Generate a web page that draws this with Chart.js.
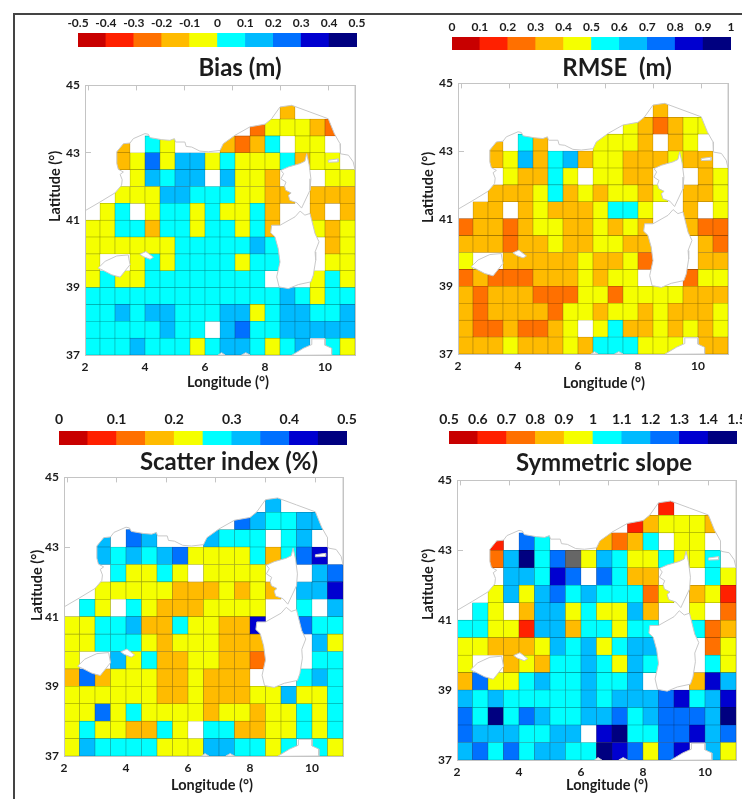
<!DOCTYPE html>
<html>
<head>
<meta charset="utf-8">
<script src="https://cdn.jsdelivr.net/npm/chart.js@4/dist/chart.umd.min.js"></script>
<style>
  html, body { margin: 0; padding: 0; background: #fff; overflow: hidden; }
  body { width: 742px; height: 799px; position: relative; }
  canvas { position: absolute; display: block; filter: blur(0.4px); }
  #frame { position: absolute; left: 13px; top: 13px; width: 800px; height: 850px; border: 2px solid #444; }
</style>
</head>
<body>
<div id="frame"></div>
<script>
const _ = null;

// left edge of each grid column, bottom edge of each grid row
const lons = [2, 2.5, 3, 3.5, 4, 4.5, 5, 5.5, 6, 6.5, 7, 7.5, 8, 8.5, 9, 9.5, 10, 10.5];
const lats = [44, 43.5, 43, 42.5, 42, 41.5, 41, 40.5, 40, 39.5, 39, 38.5, 38, 37.5, 37];
const lonTicks = [2, 4, 6, 8, 10];
const latTicks = [37, 39, 41, 43, 45];

const binColors = ['#c80000', '#ff2000', '#ff7000', '#ffbb00', '#f5ff00', '#00ffff', '#00bbff', '#0070ff', '#0000d0', '#000080'];
const offScaleColor = '#666666';

const biasLabels = ['-0.5', '-0.4', '-0.3', '-0.2', '-0.1', '0', '0.1', '0.2', '0.3', '0.4', '0.5'];
const rmseLabels = ['0', '0.1', '0.2', '0.3', '0.4', '0.5', '0.6', '0.7', '0.8', '0.9', '1'];
const scatterLabels = ['0', '0.1', '0.2', '0.3', '0.4', '0.5'];
const slopeLabels = ['0.5', '0.6', '0.7', '0.8', '0.9', '1', '1.1', '1.2', '1.3', '1.4', '1.5'];

const bias = [
  [_,_,_,_,_,_,_,_,_,_,_,_,_,-.15,_,_,_,_],
  [_,_,_,_,_,_,_,_,_,_,_,-.25,-.05,-.05,-.05,-.15,-.25,_],
  [_,_,-.15,_,.05,-.05,_,_,_,-.15,-.25,-.15,.05,_,-.05,-.05,_,_],
  [_,_,-.15,-.05,.25,-.05,.15,.15,-.05,.05,-.05,-.05,-.05,.05,-.15,-.05,-.05,_],
  [_,_,_,-.05,.15,.05,.15,.15,_,.15,-.05,-.05,-.15,_,_,_,-.05,-.05],
  [_,_,-.05,-.05,-.05,.15,.15,.05,.05,.05,-.05,-.05,-.15,-.15,_,-.15,-.15,-.15],
  [_,-.05,.05,_,-.05,.05,.05,-.05,.05,-.05,-.05,.05,-.15,_,_,-.15,_,-.15],
  [-.05,-.05,.05,.05,-.15,.05,.05,-.05,.05,.05,-.05,.05,-.15,_,_,-.05,-.15,-.05],
  [-.05,-.05,-.05,-.05,-.05,-.05,.05,.05,.05,.05,.05,.15,.05,.05,_,_,-.15,-.05],
  [-.05,_,_,-.05,.05,-.05,.05,.05,.05,.05,-.05,.05,.05,.05,_,_,-.05,-.05],
  [-.05,.05,-.05,-.05,.05,.05,.05,.05,.05,.05,.05,.05,_,_,_,-.05,.05,-.05],
  [.05,.05,.05,.05,.05,.05,.05,.05,.05,.05,.05,.05,.05,.15,.05,-.05,.05,.05],
  [.05,.05,.15,.05,.15,.15,.05,.05,.05,.15,.15,-.05,.05,.15,.15,.05,.05,.15],
  [.05,.05,.05,.05,.05,.15,.05,.05,_,.15,.25,.05,.05,.15,.15,.15,.15,.15],
  [.05,.05,.05,.15,.05,.05,.05,-.05,.05,.15,.15,.05,-.05,.05,.15,_,.05,-.05]
];

const rmse = [
  [_,_,_,_,_,_,_,_,_,_,_,_,_,.35,_,_,_,_],
  [_,_,_,_,_,_,_,_,_,_,_,.45,.35,.25,.35,.45,.45,_],
  [_,_,.35,_,.55,.35,_,_,_,.45,.45,.45,.35,_,.35,.45,_,_],
  [_,_,.35,.45,.65,.35,.55,.65,.35,.45,.45,.35,.35,.35,.45,.35,.35,_],
  [_,_,_,.45,.35,.35,.55,.45,_,.45,.45,.35,.35,_,_,_,.35,.45],
  [_,_,.35,.35,.35,.45,.55,.35,.45,.35,.45,.45,.35,.45,_,.35,.35,.45],
  [_,.35,.35,_,.35,.45,.35,.35,.35,.45,.55,.55,.45,_,_,.35,_,.45],
  [.25,.35,.35,.25,.35,.45,.45,.35,.35,.45,.35,.45,.35,_,_,.35,.25,.25],
  [.35,.35,.35,.25,.35,.35,.45,.35,.35,.45,.45,.35,.35,.35,_,_,.35,.25],
  [.45,_,_,.35,.35,.35,.35,.35,.45,.35,.35,.45,.25,_,_,_,.35,.35],
  [.25,.35,.25,.25,.25,.35,.35,.35,.45,.35,.45,.45,_,_,_,.25,.45,.45],
  [.35,.25,.35,.35,.35,.25,.25,.25,.45,.45,.25,.45,.45,.45,.45,.35,.35,.35],
  [.35,.25,.35,.35,.35,.35,.25,.45,.45,.35,.45,.45,.35,.45,.35,.35,.35,.45],
  [.35,.25,.25,.35,.25,.25,.35,.45,_,.45,.55,.35,.35,.45,.35,.45,.35,.45],
  [.35,.35,.35,.45,.35,.35,.35,.45,.35,.55,.55,.55,.45,.45,.45,_,.35,.35]
];

const scatterIndex = [
  [_,_,_,_,_,_,_,_,_,_,_,_,_,.325,_,_,_,_],
  [_,_,_,_,_,_,_,_,_,_,_,.375,.325,.275,.275,.325,.325,_],
  [_,_,.325,_,.375,.325,_,_,_,.325,.275,.275,.275,_,.275,.325,_,_],
  [_,_,.325,.275,.325,.275,.325,.375,.225,.225,.225,.225,.275,.175,.275,.375,.425,_],
  [_,_,_,.275,.225,.225,.275,.225,_,.225,.225,.225,.225,_,_,_,.325,.375],
  [_,_,.225,.225,.225,.225,.225,.175,.175,.175,.225,.175,.225,.175,_,.325,.325,.425],
  [_,.275,.225,_,.275,.225,.175,.175,.175,.225,.225,.225,.225,_,_,.275,_,.325],
  [.225,.225,.275,.275,.325,.175,.175,.275,.225,.225,.175,.175,.425,_,_,.375,.275,.275],
  [.225,.225,.275,.275,.275,.225,.175,.225,.225,.225,.175,.175,.175,_,_,_,.325,.225],
  [.225,_,_,.325,.225,.275,.175,.175,.225,.225,.175,.175,.125,_,_,_,.275,.275],
  [.175,.375,.175,.225,.225,.225,.175,.175,.225,.175,.175,.175,_,_,_,.275,.325,.275],
  [.225,.225,.225,.225,.225,.225,.175,.175,.225,.175,.175,.175,.225,.225,.325,.225,.225,.275],
  [.225,.225,.375,.225,.275,.225,.225,.225,.225,.175,.225,.225,.175,.225,.225,.275,.225,.275],
  [.225,.275,.225,.225,.175,.175,.275,.225,_,.275,.275,.175,.175,.225,.225,.275,.225,.275],
  [.225,.325,.275,.275,.275,.275,.225,.225,.225,.325,.325,.275,.275,.225,.275,_,.275,.225]
];

const slope = [
  [_,_,_,_,_,_,_,_,_,_,_,_,_,.65,_,_,_,_],
  [_,_,_,_,_,_,_,_,_,_,_,.65,.85,.95,.95,.95,.85,_],
  [_,_,.65,_,1.25,1.05,_,_,_,.85,.75,.85,1.05,_,.95,.95,_,_],
  [_,_,.75,1.15,1.45,1.05,1.25,1.6,.95,1.15,1.05,.95,.95,1.05,.95,.95,1.05,_],
  [_,_,_,1.15,1.15,1.05,1.35,1.25,_,1.25,1.05,.85,.85,_,_,_,1.05,.95],
  [_,_,.95,1.15,.95,1.15,1.25,1.05,1.15,1.05,1.05,1.05,.75,.95,_,.85,.95,.65],
  [_,1.05,.95,_,.85,1.15,1.15,.95,1.05,.95,.95,1.15,.85,_,_,.95,_,.75],
  [1.05,1.05,.95,.95,.65,1.15,1.15,.85,1.05,1.05,.95,1.05,1.05,_,_,1.05,.75,.85],
  [.95,.95,.85,.85,.85,.95,1.15,1.05,1.15,.95,1.05,1.15,1.15,_,_,_,.75,.95],
  [.95,_,_,.85,.95,.85,1.05,1.05,1.15,1.05,.95,1.15,1.05,_,_,_,1.05,.95],
  [.85,1.25,.95,.95,1.05,1.15,1.05,1.05,1.15,1.05,1.05,1.15,_,_,_,.85,1.35,1.15],
  [1.15,1.05,1.15,1.05,1.05,1.05,1.05,1.05,1.15,1.05,1.15,1.15,1.15,1.25,1.35,1.05,1.15,1.35],
  [1.25,1.05,1.45,1.05,1.25,1.15,1.05,1.05,1.15,1.15,1.25,1.05,1.15,1.25,1.25,1.25,1.15,1.45],
  [1.25,1.15,1.15,1.15,1.05,1.05,1.15,1.15,_,1.35,1.45,1.05,1.05,1.25,1.25,1.35,1.15,1.25],
  [1.15,1.25,1.05,1.25,1.05,1.15,1.15,1.05,1.05,1.45,1.35,1.25,.95,1.25,1.35,_,1.15,.95]
];

// coast outlines, [lon, lat]
const france = [[2,41.28],[2.5,41.54],[3,41.81],[3.22,42.04],[3.24,42.2],[3.17,42.36],[3.28,42.43],[3.11,42.51],[3.06,42.68],[3.06,43.03],[3.28,43.27],[3.5,43.29],[3.61,43.42],[4,43.57],[4.11,43.55],[4.17,43.45],[4.56,43.39],[4.83,43.37],[4.98,43.42],[5.02,43.32],[5.33,43.32],[5.37,43.19],[5.56,43.17],[5.83,43.05],[6.11,43.03],[6.5,43.07],[6.61,43.27],[7,43.52],[7.5,43.77],[8,43.85],[8.22,44.01],[8.5,44.36],[8.89,44.41],[9.5,44.21],[10.11,44.01],[10.31,43.57],[10.5,43.27],[10.5,43.02],[10.53,42.97],[10.78,42.93],[10.94,42.73],[11,42.5],[11,45],[2,45]];
const corsica = [[9.39,42.975],[9.47,42.65],[9.53,42.23],[9.5,41.89],[9.22,41.36],[9.06,41.52],[8.83,41.59],[8.78,41.74],[8.87,41.81],[8.69,41.89],[8.65,42.02],[8.7,42.13],[8.53,42.23],[8.62,42.38],[8.53,42.48],[8.78,42.58],[9.17,42.68],[9.33,42.75]];
const sardinia = [[9.17,41.27],[9.33,41.15],[9.5,41.2],[9.67,40.6],[9.8,40.36],[9.67,40.06],[9.69,39.81],[9.61,39.37],[9.53,39.17],[9.11,39.09],[8.78,38.97],[8.47,39.02],[8.39,39.32],[8.5,39.76],[8.44,40.16],[8.33,40.51],[8.19,40.63],[8.22,40.85],[8.5,40.85],[9,41.1]];
const mallorca = [[2.44,39.58],[2.67,39.78],[3.06,39.94],[3.44,39.97],[3.5,39.68],[3.17,39.31],[2.89,39.38],[2.61,39.51]];
const menorca = [[3.83,39.99],[4.03,40.07],[4.28,39.9],[4.17,39.84],[3.94,39.92]];
const elba = [[10.11,42.78],[10.44,42.82],[10.44,42.73],[10.11,42.72]];
const sicily = [[8.89,36.99],[9.28,37.2],[9.56,37.31],[9.56,37.48],[10,37.48],[10,37.29],[10.22,37.2],[10.22,37]];
const coast1 = [[6.44,37],[6.55,37.07],[6.67,37]];
const coast2 = [[7.22,37],[7.36,37.07],[7.5,37]];
const lands = [france, corsica, sardinia, mallorca, menorca, elba, sicily, coast1, coast2];

const FONT = 'Lato, sans-serif';
const INK = '#1c1c1c';
const EDGE = '#c4c4c4';
const CANVAS_W = 440;

function addCanvas(left, top, w, h) {
  const c = document.createElement('canvas');
  c.width = w;
  c.height = h;
  c.style.left = left + 'px';
  c.style.top = top + 'px';
  c.style.width = w + 'px';
  c.style.height = h + 'px';
  document.body.appendChild(c);
  return c;
}

function colorFor(v, low, step) {
  const i = Math.floor((v - low) / step);
  return binColors[i] || offScaleColor;
}

// cell edges are a darker tint of the cell itself
function darker(hex) {
  const n = parseInt(hex.slice(1), 16);
  const r = Math.round((n >> 16) * 0.62);
  const g = Math.round(((n >> 8) & 255) * 0.62);
  const b = Math.round((n & 255) * 0.62);
  return 'rgb(' + r + ',' + g + ',' + b + ')';
}

function toXY(points) {
  return points.map(p => ({ x: p[0], y: p[1] }));
}

// axis names sit off-centre in the original, scale titles can't do that
const axisNames = {
  id: 'axisNames',
  afterDraw(chart, args, opts) {
    const ctx = chart.ctx;
    ctx.save();
    ctx.fillStyle = INK;
    ctx.font = 'bold 14.5px ' + FONT;
    ctx.textAlign = 'center';
    ctx.textBaseline = 'middle';
    ctx.fillText('Longitude (°)', opts.xName[0], opts.xName[1]);
    ctx.translate(opts.yName[0], opts.yName[1]);
    ctx.rotate(-Math.PI / 2);
    ctx.fillText('Latitude (°)', 0, 0);
    ctx.restore();
  }
};

function drawMap(p) {
  // canvas is centred on the title, the margins live in the axis widths
  const left = p.titleX - CANVAS_W / 2;
  const top = p.titleY - 14.4;
  const height = p.plot.bottom + 40 - top;
  const canvas = addCanvas(left, top, CANVAS_W, height);

  const cells = [];
  const colors = [];
  p.grid.forEach((row, r) => {
    row.forEach((v, c) => {
      if (v === null) return;
      cells.push({ x: lons[c] + 0.25, y: [lats[r], lats[r] + 0.5] });
      colors.push(colorFor(v, p.low, p.step));
    });
  });

  const datasets = [{
    type: 'bar',
    data: cells,
    backgroundColor: colors,
    borderColor: colors.map(darker),
    borderWidth: 0.6,
    borderSkipped: false,
    grouped: false,
    barPercentage: 1,
    categoryPercentage: 1,
    order: 2
  }];
  lands.forEach(land => {
    datasets.push({
      type: 'scatter',
      data: toXY(land.concat([land[0]])),
      showLine: true,
      tension: 0,
      pointRadius: 0,
      borderColor: '#c8c8c8',
      borderWidth: 1,
      backgroundColor: '#ffffff',
      fill: 'shape',
      order: 1
    });
  });

  const tickFont = { family: FONT, weight: 'bold', size: 12 };
  new Chart(canvas.getContext('2d'), {
    type: 'bar',
    data: { datasets: datasets },
    plugins: [axisNames],
    options: {
      responsive: false,
      animation: false,
      events: [],
      layout: { padding: 0 },
      plugins: {
        legend: { display: false },
        tooltip: { enabled: false },
        title: {
          display: true,
          text: p.title,
          color: INK,
          font: { family: FONT, weight: 'bold', size: 24 },
          padding: { top: 0, bottom: p.plot.top - top - 28.8 }
        },
        axisNames: {
          xName: [p.xName[0] - left, p.xName[1] - top],
          yName: [p.yName[0] - left, p.yName[1] - top]
        }
      },
      scales: {
        x: {
          type: 'linear',
          min: 2,
          max: 11,
          offset: false,
          afterBuildTicks: s => { s.ticks = lonTicks.map(v => ({ value: v })); },
          afterFit: s => { s.height = 40; },
          grid: { display: false, offset: false, drawTicks: false },
          border: { color: EDGE, z: 1 },
          ticks: { color: INK, font: tickFont, padding: 5, maxRotation: 0, autoSkip: false }
        },
        xTop: {
          type: 'linear',
          axis: 'x',
          position: 'top',
          min: 2,
          max: 11,
          afterBuildTicks: s => { s.ticks = lonTicks.map(v => ({ value: v })); },
          afterFit: s => { s.height = 0; },
          grid: { drawOnChartArea: false, tickLength: -5, color: EDGE, z: 1 },
          border: { color: EDGE, z: 1 },
          ticks: { display: false }
        },
        y: {
          type: 'linear',
          min: 37,
          max: 45,
          afterBuildTicks: s => { s.ticks = latTicks.map(v => ({ value: v })); },
          afterFit: s => { s.width = p.plot.left - left; },
          grid: {
            drawOnChartArea: false,
            tickLength: -6,
            z: 1,
            tickColor: c => (c.tick && c.tick.value >= 43 ? EDGE : 'transparent')
          },
          border: { color: EDGE, z: 1 },
          ticks: { color: INK, font: tickFont, padding: 11, autoSkip: false }
        },
        yRight: {
          type: 'linear',
          axis: 'y',
          position: 'right',
          min: 37,
          max: 45,
          afterFit: s => { s.width = left + CANVAS_W - p.plot.right; },
          grid: { display: false, drawTicks: false },
          border: { color: EDGE, z: 1 },
          ticks: { display: false }
        }
      }
    }
  });
}

function drawColorbar(p) {
  const b = p.bar;
  const side = 30;
  const labelH = 20;
  const canvas = addCanvas(b.left - side, b.top - labelH, b.right - b.left + side * 2, b.bottom - b.top + labelH);

  const low = p.low;
  const bins = binColors.map((col, i) => ({ x: low + p.step * (i + 0.5), y: [0, 1] }));
  const high = low + p.step * binColors.length;
  const tickStep = (high - low) / (p.labels.length - 1);

  new Chart(canvas.getContext('2d'), {
    type: 'bar',
    data: {
      datasets: [{
        data: bins,
        backgroundColor: binColors,
        borderWidth: 0,
        grouped: false,
        barPercentage: 1,
        categoryPercentage: 1
      }]
    },
    options: {
      responsive: false,
      animation: false,
      events: [],
      layout: { padding: { left: side, right: side, top: 0, bottom: 0 } },
      plugins: { legend: { display: false }, tooltip: { enabled: false } },
      scales: {
        x: {
          type: 'linear',
          position: 'top',
          min: low,
          max: high,
          offset: false,
          afterBuildTicks: s => { s.ticks = p.labels.map((t, i) => ({ value: low + tickStep * i })); },
          afterFit: s => { s.height = labelH; },
          grid: { display: false, offset: false, drawTicks: false },
          border: { display: false },
          ticks: {
            color: INK,
            font: { family: FONT, weight: 'bold', size: p.labelSize },
            padding: 3,
            maxRotation: 0,
            autoSkip: false,
            callback: (value, i) => p.labels[i]
          }
        },
        y: { display: false, min: 0, max: 1 }
      }
    }
  });
}

const panels = [
  {
    title: 'Bias (m)', grid: bias, labels: biasLabels, low: -0.5, step: 0.1, labelSize: 12,
    titleX: 240, titleY: 68,
    plot: { left: 85, right: 355, top: 85, bottom: 355 },
    bar: { left: 78, right: 357, top: 33, bottom: 47 },
    xName: [228, 382], yName: [55, 186]
  },
  {
    title: 'RMSE  (m)', grid: rmse, labels: rmseLabels, low: 0, step: 0.1, labelSize: 12,
    titleX: 617, titleY: 68,
    plot: { left: 458, right: 728, top: 83, bottom: 354 },
    bar: { left: 452, right: 731, top: 37, bottom: 50 },
    xName: [604, 383], yName: [428, 187]
  },
  {
    title: 'Scatter index (%)', grid: scatterIndex, labels: scatterLabels, low: 0, step: 0.05, labelSize: 14,
    titleX: 229, titleY: 462,
    plot: { left: 64, right: 343, top: 477, bottom: 756 },
    bar: { left: 59, right: 347, top: 431, bottom: 445 },
    xName: [212, 785], yName: [37, 585]
  },
  {
    title: 'Symmetric slope', grid: slope, labels: slopeLabels, low: 0.5, step: 0.1, labelSize: 14,
    titleX: 604, titleY: 463,
    plot: { left: 457, right: 736, top: 480, bottom: 760 },
    bar: { left: 449, right: 737, top: 431, bottom: 444 },
    xName: [607, 785], yName: [428, 584]
  }
];

panels.forEach(p => {
  drawMap(p);
  drawColorbar(p);
});
</script>
</body>
</html>
